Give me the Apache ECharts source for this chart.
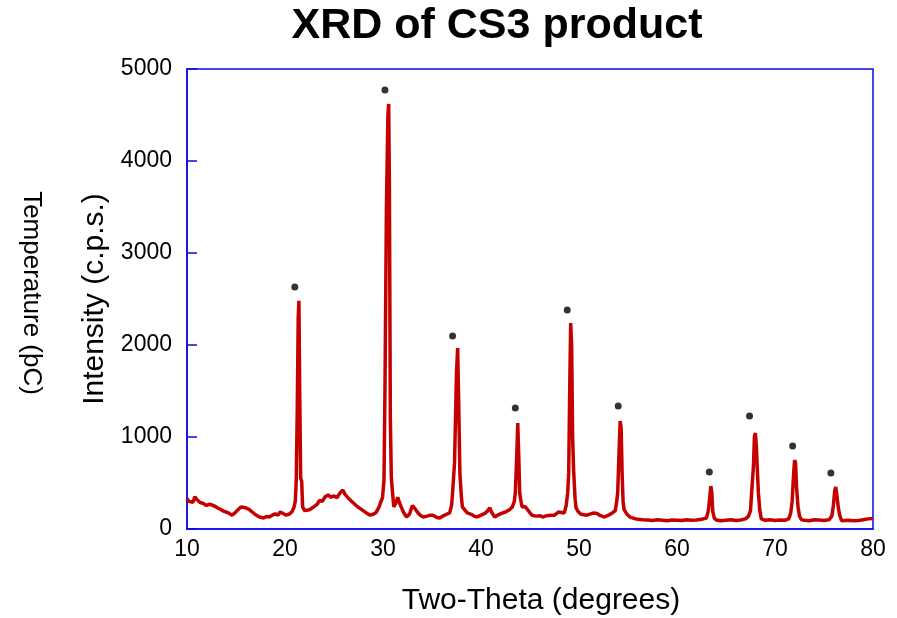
<!DOCTYPE html>
<html>
<head>
<meta charset="utf-8">
<script src="https://cdn.jsdelivr.net/npm/echarts@6/dist/echarts.min.js"></script>
<style>
  html, body { margin: 0; padding: 0; background: #fff; }
  #chart { width: 897px; height: 618px; }
</style>
</head>
<body>
<div id="chart"></div>
<script>
// XRD scan
const twoTheta = [
  10.0, 10.2, 10.4, 10.6, 10.8, 11.0, 11.3, 11.6, 12.0, 12.3, 12.5, 12.8, 13.1, 13.4, 13.7, 14.0,
  14.3, 14.6, 14.9, 15.2, 15.5, 15.7, 16.0, 16.3, 16.6, 17.0, 17.4, 17.8, 18.1, 18.4, 18.7, 19.0,
  19.3, 19.5, 19.8, 20.1, 20.4, 20.7, 20.9, 21.05, 21.15, 21.25, 21.35, 21.42, 21.5, 21.6, 21.7, 21.8,
  22.0, 22.2, 22.5, 22.8, 23.0, 23.3, 23.5, 23.8, 24.1, 24.4, 24.7, 25.0, 25.3, 25.6, 25.9, 26.1,
  26.3, 26.6, 26.9, 27.2, 27.5, 27.9, 28.3, 28.7, 29.0, 29.3, 29.6, 29.8, 29.95, 30.1, 30.2, 30.35,
  30.5, 30.58, 30.65, 30.75, 30.85, 30.95, 31.1, 31.3, 31.5, 31.7, 31.9, 32.1, 32.4, 32.7, 33.0, 33.2,
  33.5, 33.8, 34.1, 34.5, 34.8, 35.1, 35.5, 35.8, 36.1, 36.5, 36.8, 37.0, 37.1, 37.3, 37.5, 37.62,
  37.72, 37.85, 38.0, 38.1, 38.4, 38.6, 39.0, 39.3, 39.6, 40.0, 40.4, 40.7, 40.9, 41.1, 41.4, 41.7,
  42.1, 42.5, 42.9, 43.2, 43.4, 43.5, 43.65, 43.75, 43.85, 43.95, 44.1, 44.2, 44.5, 44.7, 45.0, 45.2,
  45.6, 46.0, 46.3, 46.7, 47.1, 47.5, 47.9, 48.2, 48.5, 48.7, 48.85, 48.95, 49.05, 49.15, 49.25, 49.35,
  49.45, 49.6, 49.7, 49.9, 50.2, 50.4, 50.8, 51.2, 51.5, 51.8, 52.2, 52.6, 53.0, 53.4, 53.7, 53.85,
  53.95, 54.05, 54.2, 54.3, 54.4, 54.5, 54.6, 54.9, 55.2, 55.6, 56.0, 56.5, 57.0, 57.5, 58.0, 58.5,
  59.0, 59.5, 60.0, 60.5, 61.0, 61.5, 62.0, 62.5, 63.0, 63.2, 63.35, 63.45, 63.55, 63.65, 63.8, 64.0,
  64.5, 65.0, 65.5, 66.0, 66.5, 67.0, 67.3, 67.5, 67.65, 67.8, 67.9, 68.0, 68.1, 68.18, 68.3, 68.45,
  68.6, 69.0, 69.5, 70.0, 70.5, 71.0, 71.4, 71.6, 71.75, 71.9, 72.0, 72.1, 72.2, 72.35, 72.5, 72.7,
  73.0, 73.5, 74.0, 74.5, 75.0, 75.5, 75.8, 75.95, 76.1, 76.2, 76.3, 76.45, 76.6, 76.8, 77.0, 77.5,
  78.0, 78.5, 79.0, 79.5, 80.0
];
const intensity = [
  330, 300, 320, 290, 350, 320, 290, 280, 255, 270, 285, 250, 230, 215, 195, 185,
  170, 150, 175, 210, 240, 250, 230, 215, 190, 155, 130, 120, 135, 130, 150, 165,
  150, 185, 170, 150, 160, 185, 230, 300, 540, 1300, 2300, 2480, 1500, 550, 520, 240,
  200, 185, 210, 230, 215, 270, 310, 300, 350, 370, 345, 360, 340, 390, 425, 380,
  365, 320, 290, 260, 235, 205, 175, 150, 160, 180, 240, 300, 340, 530, 1500, 3500,
  4500, 4620, 3800, 1200, 560, 420, 240, 280, 345, 280, 230, 180, 130, 160, 255, 230,
  185, 150, 130, 140, 150, 150, 125, 120, 140, 160, 175, 260, 390, 720, 1700, 1967,
  1400, 590, 350, 240, 200, 175, 160, 140, 130, 150, 170, 200, 230, 180, 130, 150,
  170, 185, 210, 240, 300, 390, 800, 1152, 800, 390, 290, 240, 245, 225, 175, 150,
  140, 145, 130, 145, 150, 150, 185, 180, 175, 260, 400, 610, 1500, 2239, 2000, 1000,
  640, 330, 230, 190, 160, 150, 150, 165, 175, 170, 145, 130, 150, 175, 200, 300,
  400, 720, 1174, 1100, 600, 300, 210, 160, 130, 115, 105, 100, 98, 92, 100, 95,
  90, 98, 95, 92, 100, 95, 98, 105, 120, 200, 350, 467, 400, 190, 120, 98,
  90, 95, 100, 92, 98, 110, 140, 200, 450, 680, 1000, 1043, 900, 690, 400, 200,
  110, 95, 100, 92, 98, 95, 110, 170, 300, 600, 750, 720, 450, 240, 140, 100,
  95, 90, 100, 98, 92, 100, 140, 250, 420, 456, 380, 240, 150, 90, 85, 95,
  90, 92, 100, 110, 115
];
// peak marker dots
const markTheta = [21.0, 30.2, 37.1, 43.5, 48.8, 54.0, 63.3, 67.4, 71.8, 75.7];
const markIntensity = [2630, 4772, 2098, 1315, 2380, 1337, 620, 1228, 902, 609];

const FONT = '"Liberation Sans", Arial, sans-serif';
const BLUE = '#0a0ae6';

const chart = echarts.init(document.getElementById('chart'));
chart.setOption({
  backgroundColor: '#fff',
  animation: false,
  title: {
    text: 'XRD of CS3 product',
    left: 492,
    textAlign: 'center',
    top: 0,
    textStyle: { fontFamily: FONT, fontSize: 43, fontWeight: 'bold', color: '#000' }
  },
  grid: {
    left: 187, right: 24, top: 69, bottom: 89,
    outerBoundsMode: 'none',
    containLabel: false,
    show: true, borderColor: BLUE, borderWidth: 1.5, backgroundColor: 'transparent'
  },
  xAxis: {
    type: 'value',
    min: 10, max: 80, interval: 10,
    name: 'Two-Theta (degrees)',
    nameLocation: 'middle',
    nameGap: 57,
    nameTextStyle: { fontFamily: FONT, fontSize: 30, color: '#000', padding: [0, 0, 0, 22] },
    axisLine: { lineStyle: { color: BLUE, width: 1.5 } },
    axisTick: { show: false },
    splitLine: { show: false },
    axisLabel: { fontFamily: FONT, fontSize: 23, color: '#000', margin: 9 }
  },
  yAxis: {
    type: 'value',
    min: 0, max: 5000, interval: 1000,
    name: 'Intensity (c.p.s.)',
    nameLocation: 'middle',
    nameRotate: 90,
    nameGap: 74,
    nameTextStyle: { fontFamily: FONT, fontSize: 30, color: '#000' },
    axisLine: { show: true, lineStyle: { color: BLUE, width: 1.5 } },
    axisTick: { show: true, inside: true, length: 10, lineStyle: { color: BLUE, width: 1.5 } },
    splitLine: { show: false },
    axisLabel: { fontFamily: FONT, fontSize: 23, color: '#000', margin: 15, formatter: v => String(v) }
  },
  graphic: [{
    type: 'text',
    x: 31,
    y: 293,
    rotation: -Math.PI / 2,
    style: {
      text: 'Temperature (þC)',
      font: '26px ' + FONT,
      fill: '#000',
      align: 'center',
      verticalAlign: 'middle'
    }
  }],
  series: [
    {
      type: 'line',
      data: twoTheta.map((t, i) => [t, intensity[i]]),
      showSymbol: false,
      lineStyle: { color: '#c40000', width: 3.5 },
      z: 2
    },
    {
      type: 'scatter',
      data: markTheta.map((t, i) => [t, markIntensity[i]]),
      symbolSize: 7,
      itemStyle: { color: '#000' },
      z: 3
    }
  ]
});
</script>
</body>
</html>
